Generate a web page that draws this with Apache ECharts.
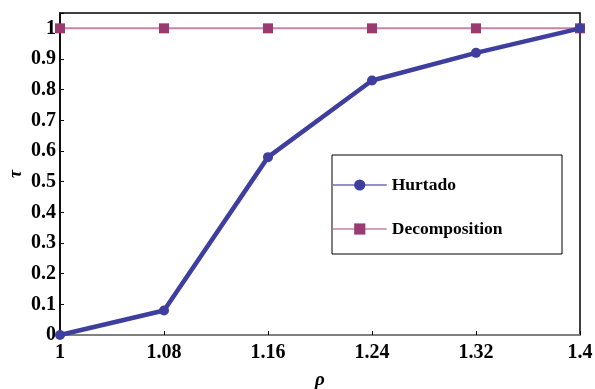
<!DOCTYPE html>
<html><head><meta charset="utf-8">
<script src="https://cdn.jsdelivr.net/npm/echarts@6/dist/echarts.min.js"></script>
<style>html,body{margin:0;padding:0;background:#fff}#c{width:595px;height:389px}</style>
</head><body><div id="c"></div>
<script>
const rho = ['1', '1.08', '1.16', '1.24', '1.32', '1.4'];
const hurtado = [0, 0.08, 0.58, 0.83, 0.92, 1.0];
const decomposition = [1, 1, 1, 1, 1, 1];
const yTitle = 'τ';
const xTitle = 'ρ';
const FONT = 'Liberation Serif';
const chart = echarts.init(document.getElementById('c'), null, {renderer: 'canvas'});
chart.setOption({
  animation: false,
  backgroundColor: '#fff',
  grid: {left: 60, right: 15, top: 13, bottom: 54, show: true, borderColor: '#000', borderWidth: 1.5,
    containLabel: false, outerBoundsMode: 'none'},
  xAxis: {
    type: 'category', data: rho, boundaryGap: false,
    name: xTitle, nameLocation: 'middle', nameGap: 36,
    nameTextStyle: {fontFamily: FONT, fontSize: 19, fontStyle: 'italic', fontWeight: 'bold', color: '#000'},
    axisLine: {lineStyle: {color: '#808080', width: 2}},
    axisTick: {inside: true, length: 4, lineStyle: {color: '#000'}},
    axisLabel: {fontFamily: FONT, fontWeight: 'bold', fontSize: 20, color: '#000', margin: 8},
    splitLine: {show: false}
  },
  yAxis: {
    type: 'value', min: 0, max: 1.05, interval: 0.1,
    axisLine: {show: true, lineStyle: {color: '#000', width: 1.5}},
    axisTick: {show: true, inside: true, length: 4, lineStyle: {color: '#000'}},
    axisLabel: {fontFamily: FONT, fontWeight: 'bold', fontSize: 20, color: '#000', margin: 4,
      formatter: v => v > 1.001 ? '' : String(Math.round(v * 10) / 10)},
    splitLine: {show: false}
  },
  legend: {
    orient: 'vertical', left: 332, top: 176, padding: 0, itemGap: 26,
    itemWidth: 54, itemHeight: 14,
    textStyle: {fontFamily: FONT, fontWeight: 'bold', fontSize: 17.5, color: '#000'},
    data: [
      {name: 'Hurtado', itemStyle: {color: '#3e3e9e'}, lineStyle: {color: '#6b6bc2', width: 1.5}},
      {name: 'Decomposition', itemStyle: {color: '#993a70'}, lineStyle: {color: '#c982ab', width: 1.5}}
    ]
  },
  graphic: [
    {
      type: 'rect', shape: {x: 332, y: 155, width: 230, height: 99},
      style: {fill: '#fff', stroke: '#000', lineWidth: 1}, z: 0, silent: true
    },
    {
      type: 'text', x: 16, y: 174, rotation: Math.PI / 2,
      style: {text: yTitle, fontFamily: FONT, fontSize: 18, fontStyle: 'italic', fontWeight: 'bold',
        fill: '#000', align: 'center', verticalAlign: 'middle'}
    }
  ],
  series: [
    {
      name: 'Hurtado', type: 'line', data: hurtado, clip: false, z: 3,
      symbol: 'circle', symbolSize: 10,
      lineStyle: {color: '#3e3e9e', width: 4.5},
      itemStyle: {color: '#3e3e9e'}
    },
    {
      name: 'Decomposition', type: 'line', data: decomposition, clip: false, z: 2,
      symbol: 'rect', symbolSize: 10,
      lineStyle: {color: '#c982ab', width: 2},
      itemStyle: {color: '#993a70'}
    }
  ]
});
</script></body></html>
